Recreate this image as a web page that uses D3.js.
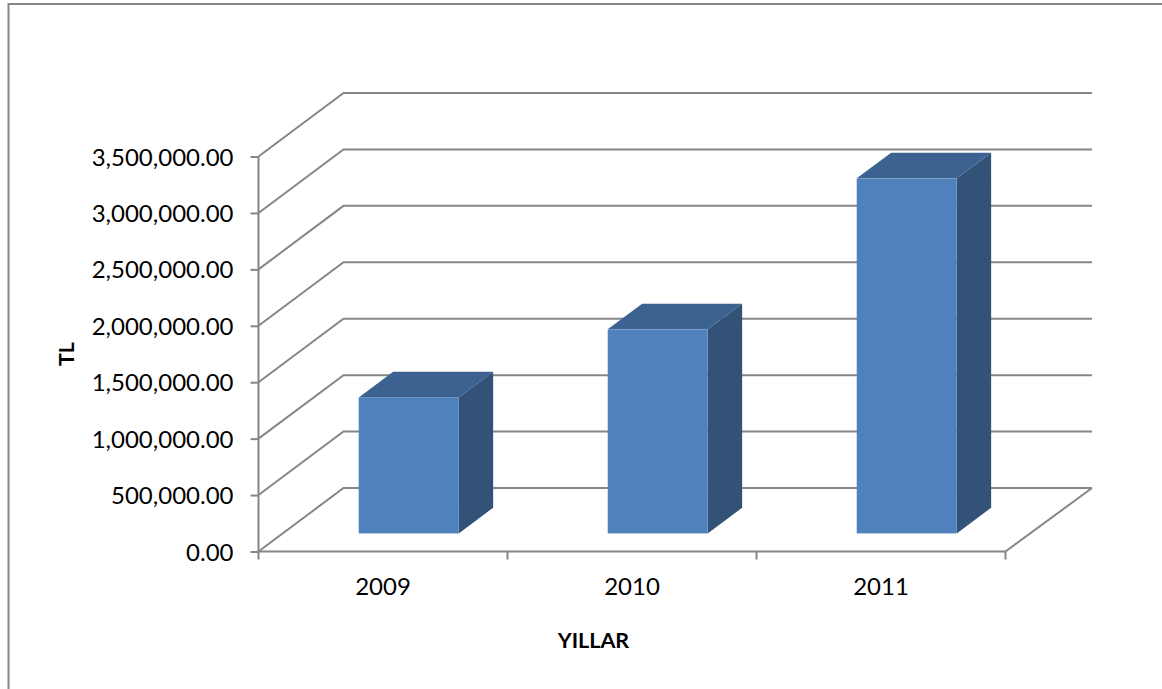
<html>

<head>
    <script src="https://d3js.org/d3.v7.min.js"></script>
    <style>
        body { margin: 0; background: white; }
        text { font-family: Lato, "Open Sans", sans-serif; fill: black; }
    </style>
</head>
<body>
    <svg width="1162" height="689"></svg>
    <script>
        const years = ["2009", "2010", "2011"];
        const values = [1205000, 1808000, 3146000];
        const yTicks = [0, 500000, 1000000, 1500000, 2000000, 2500000, 3000000, 3500000];

        const svg = d3.select("svg");
        const gray = "#868686";

        const yScale = d3.scaleLinear().domain([0, 3500000]).range([551.5, 156.5]);
        const xScale = d3.scaleBand().domain(years).range([258.5, 1005.5]);
        // depth goes from the front of the floor (0) to the back wall (1)
        const depthX = d3.scaleLinear().domain([0, 1]).range([0, 85]);
        const depthY = d3.scaleLinear().domain([0, 1]).range([0, -63.5]);
        const barFront = 0.285, barBack = 0.69;
        const barWidth = 100;

        const px = (x, d) => x + depthX(d);
        const py = (y, d) => y + depthY(d);

        // chart frame, only top and left are visible
        svg.append("path")
           .attr("d", "M1162,4H8.5V689")
           .attr("fill", "none")
           .attr("stroke", gray)
           .attr("stroke-width", 2);

        const x0 = xScale.range()[0], x1 = xScale.range()[1];
        const line = d3.line();

        // walls
        svg.selectAll("path.grid").data(yTicks)
           .join("path")
           .attr("class", "grid")
           .attr("fill", "none")
           .attr("stroke", gray)
           .attr("stroke-width", 2)
           .attr("d", d => line([
               [px(x0, 0), py(yScale(d), 0)],
               [px(x0, 1), py(yScale(d), 1)],
               [px(x1, 1) + 1.5, py(yScale(d), 1)]
           ]));

        // floor right edge
        svg.append("path")
           .attr("fill", "none")
           .attr("stroke", gray)
           .attr("stroke-width", 2)
           .attr("d", line([[px(x1, 0), py(yScale(0), 0)], [px(x1, 1) + 1.5, py(yScale(0), 1)]]));

        // axes
        const yAxis = svg.append("g")
           .attr("transform", `translate(${x0},0)`)
           .call(d3.axisLeft(yScale).tickValues(yTicks).tickSize(8).tickPadding(17)
                   .tickFormat(d3.format(",.2f")));
        const xAxis = svg.append("g")
           .attr("transform", `translate(0,${yScale(0)})`)
           .call(d3.axisBottom(xScale).tickSize(0).tickPadding(26));
        [yAxis, xAxis].forEach(a => {
            a.selectAll("path, line").attr("stroke", gray).attr("stroke-width", 2);
            a.selectAll("text").attr("font-size", 24).attr("font-family", "Lato").attr("fill", "black");
            a.select(".domain").attr("d", null);
        });
        yAxis.selectAll("text").attr("dy", "0.36em");
        svg.append("line").attr("x1", x0).attr("x2", x0)
           .attr("y1", yScale(3500000)).attr("y2", yScale(0) + 8)
           .attr("stroke", gray).attr("stroke-width", 2);
        svg.append("line").attr("x1", x0).attr("x2", x1)
           .attr("y1", yScale(0)).attr("y2", yScale(0))
           .attr("stroke", gray).attr("stroke-width", 2);
        svg.selectAll("line.xtick").data(years)
           .join("line")
           .attr("class", "xtick")
           .attr("x1", d => xScale(d) + xScale.step())
           .attr("x2", d => xScale(d) + xScale.step())
           .attr("y1", yScale(0)).attr("y2", yScale(0) + 8)
           .attr("stroke", gray).attr("stroke-width", 2);

        // bars
        const bars = svg.selectAll("g.bar").data(years.map((y, i) => ({year: y, value: values[i]})))
           .join("g")
           .attr("class", "bar");
        const left = d => xScale(d.year) + xScale.bandwidth() / 2 - barWidth / 2 + depthX(barFront) + 1.5;
        const right = d => left(d) + barWidth;
        const base = d => py(yScale(0), barFront);
        const top_ = d => py(yScale(d.value), barFront);
        const dx = depthX(barBack - barFront), dy = depthY(barBack - barFront);

        bars.append("path")
            .attr("fill", "#325278")
            .attr("d", d => line([[right(d), base(d)], [right(d) + dx, base(d) + dy], [right(d) + dx, top_(d) + dy], [right(d), top_(d)]]) + "Z");
        bars.append("path")
            .attr("fill", "#3c6291")
            .attr("d", d => line([[left(d), top_(d)], [left(d) + dx, top_(d) + dy], [right(d) + dx, top_(d) + dy], [right(d), top_(d)]]) + "Z");
        bars.append("rect")
            .attr("fill", "#4f81bd")
            .attr("x", left)
            .attr("y", top_)
            .attr("width", barWidth)
            .attr("height", d => base(d) - top_(d));

        // axis titles
        svg.append("text")
           .attr("x", 593.5).attr("y", 648)
           .attr("text-anchor", "middle")
           .attr("font-size", 21.5).attr("font-weight", "bold")
           .text("YILLAR");
        svg.append("text")
           .attr("transform", "translate(74,354) rotate(-90)")
           .attr("text-anchor", "middle")
           .attr("font-size", 21.5).attr("font-weight", "bold")
           .text("TL");
    </script>
</body>

</html>
